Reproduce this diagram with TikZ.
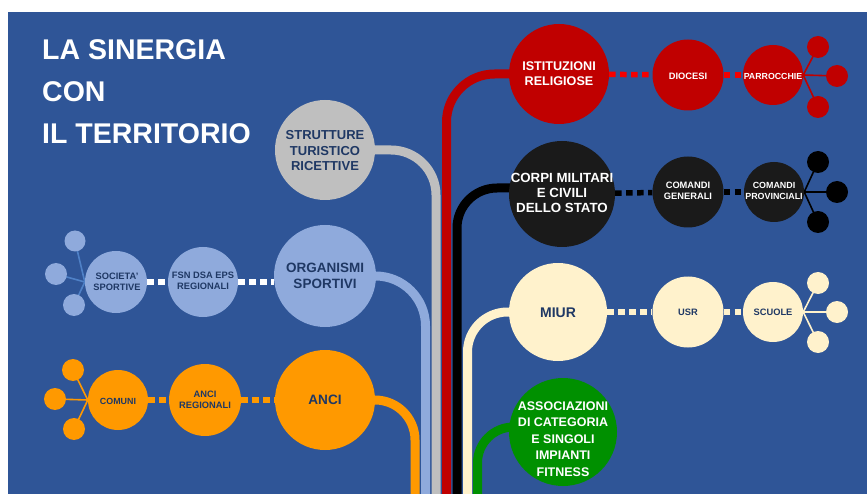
\documentclass[tikz,border=0pt]{standalone}
\usepackage{fontspec}
\setmainfont{Liberation Sans}
\definecolor{bg}{HTML}{2F5597}
\definecolor{navy}{HTML}{1F3864}
\definecolor{cgray}{HTML}{BFBFBF}
\definecolor{cblue}{HTML}{8FAADC}
\definecolor{cspoke}{HTML}{4F81C7}
\definecolor{corange}{HTML}{FF9900}
\definecolor{cred}{HTML}{C00000}
\definecolor{cblack}{HTML}{1A1A1A}
\definecolor{ccream}{HTML}{FFF2CC}
\definecolor{cgreen}{HTML}{009000}
\pgfdeclarelayer{back}
\pgfdeclarelayer{lines}
\pgfsetlayers{back,lines,main}
\begin{document}
\begin{tikzpicture}[x=1pt,y=-1pt,
  disc/.style={circle, fill=#1, draw=none, inner sep=0pt},
  conn/.style={draw=#1, line width=9pt},
  dots/.style={draw=#1, line width=5.5pt, dash pattern=on 6.5pt off 4.5pt},
  spoke/.style={draw=#1, line width=1.6pt},
  bigtxt/.style={font=\fontsize{13}{15.5}\selectfont\bfseries, align=center, text=#1, inner sep=0pt},
  smalltxt/.style={font=\fontsize{9.3}{11.3}\selectfont\bfseries, align=center, text=#1, inner sep=0pt},
  title/.style={font=\fontsize{28.5}{34}\selectfont\bfseries, text=white, anchor=base west, inner sep=0pt},
]
\useasboundingbox (0,0) rectangle (867,494);
\begin{pgfonlayer}{back}
\fill[white] (0,0) rectangle (867,494);
\fill[bg] (8,12) rectangle (867,494);
\end{pgfonlayer}

% title
\node[title] (t1) at (42,60) {LA SINERGIA};
\node[title] (t2) at (42,102) {CON};
\node[title] (t3) at (42,144) {IL TERRITORIO};

% ends of the trunk lines at the bottom edge
\coordinate (borange) at (415,494);
\coordinate (bblue)   at (425.5,494);
\coordinate (bgray)   at (436,494);
\coordinate (bred)    at (446.5,494);
\coordinate (bblack)  at (457,494);
\coordinate (bcream)  at (467.5,494);
\coordinate (bgreen)  at (477.5,494);

% main circles
\path
  (325,150) node[disc=cgray,  minimum size=100pt] (strutt) {}
  (325,276) node[disc=cblue,  minimum size=102pt] (org) {}
  (116,282) node[disc=cblue,  minimum size=62pt]  (soc) {}
  (203,282) node[disc=cblue,  minimum size=70pt]  (fsn) {}
  (325,400) node[disc=corange,minimum size=100pt] (anci) {}
  (205,400) node[disc=corange,minimum size=72pt]  (anreg) {}
  (118,400) node[disc=corange,minimum size=60pt]  (comuni) {}
  (559,74)  node[disc=cred,   minimum size=100pt] (istit) {}
  (688,75)  node[disc=cred,   minimum size=71pt]  (dioc) {}
  (773,75)  node[disc=cred,   minimum size=60pt]  (parr) {}
  (562,194) node[disc=cblack, minimum size=106pt] (corpi) {}
  (688,192) node[disc=cblack, minimum size=71pt]  (comgen) {}
  (774,192) node[disc=cblack, minimum size=60pt]  (comprov) {}
  (558,312) node[disc=ccream, minimum size=98pt]  (miur) {}
  (688,312) node[disc=ccream, minimum size=71pt]  (usr) {}
  (773,312) node[disc=ccream, minimum size=60pt]  (scuole) {}
  (563,432) node[disc=cgreen, minimum size=108pt] (assoc) {};

% leaf circles
\path
  (75,241)  node[disc=cblue, minimum size=21pt] (sa) {}
  (56,274)  node[disc=cblue, minimum size=22pt] (sb) {}
  (74,305)  node[disc=cblue, minimum size=22pt] (sc) {}
  (73,370)  node[disc=corange, minimum size=22pt] (oa) {}
  (55,399)  node[disc=corange, minimum size=22pt] (ob) {}
  (74,429)  node[disc=corange, minimum size=22pt] (oc) {}
  (818,47)  node[disc=cred, minimum size=22pt] (ra) {}
  (837,76)  node[disc=cred, minimum size=22pt] (rb) {}
  (818,107) node[disc=cred, minimum size=22pt] (rc) {}
  (818,162) node[disc=black, minimum size=22pt] (ka) {}
  (837,192) node[disc=black, minimum size=22pt] (kb) {}
  (818,222) node[disc=black, minimum size=22pt] (kc) {}
  (818,283) node[disc=ccream, minimum size=22pt] (ca) {}
  (837,312) node[disc=ccream, minimum size=22pt] (cb) {}
  (818,342) node[disc=ccream, minimum size=22pt] (cc) {};

\begin{pgfonlayer}{lines}
% trunk connectors
\draw[conn=cgray,   rounded corners=45pt] (strutt.center) -| (bgray);
\draw[conn=cblue,   rounded corners=50pt] (org.center) -| (bblue);
\draw[conn=corange, rounded corners=40pt] (anci.center) -| (borange);
\draw[conn=cred,    rounded corners=48pt] (istit.center) -| (bred);
\draw[conn=black,   rounded corners=40pt] ([yshift=6pt]corpi.center) -| (bblack);
\draw[conn=ccream,  rounded corners=40pt] (miur.center) -| (bcream);
\draw[conn=cgreen,  rounded corners=36pt] ([yshift=5pt]assoc.center) -| (bgreen);

% dotted links
\draw[dots=white]   (soc) -- (fsn);
\draw[dots=white]   (fsn.east) -- (fsn.east -| org.west);
\draw[dots=corange] (comuni) -- (anreg);
\draw[dots=corange] (anreg) -- (anci);
\draw[dots=red!85!cred] (istit) -- (dioc);
\draw[dots=red!85!cred] (dioc) -- (parr);
\draw[dots=black]   (corpi) -- (comgen);
\draw[dots=black]   (comgen) -- (comprov);
\draw[dots=ccream]  (miur) -- (usr);
\draw[dots=ccream]  (usr) -- (scuole);

% spokes to the leaf circles
\foreach \l in {sa,sb,sc} \draw[spoke=cspoke] (soc.west) -- (\l.center);
\foreach \l in {oa,ob,oc} \draw[spoke=corange] (comuni.west) -- (\l.center);
\foreach \l in {ra,rb,rc} \draw[spoke=cred] (parr.east) -- (\l.center);
\foreach \l in {ka,kb,kc} \draw[spoke=black] (comprov.east) -- (\l.center);
\foreach \l in {ca,cb,cc} \draw[spoke=ccream] (scuole.east) -- (\l.center);
\end{pgfonlayer}

% labels
\node[bigtxt=navy] (strutt-t) at (325,151) {STRUTTURE\\TURISTICO\\RICETTIVE};
\node[bigtxt=navy, font=\fontsize{13.5}{15.5}\selectfont\bfseries] (org-t) at (325,276) {ORGANISMI\\SPORTIVI};
\node[smalltxt=navy] (soc-t) at (117,282) {SOCIETA'\\SPORTIVE};
\node[smalltxt=navy] (fsn-t) at (203,281) {FSN DSA EPS\\REGIONALI};
\node[bigtxt=navy, font=\fontsize{13.6}{15.5}\selectfont\bfseries] (anci-t) at (325,400) {ANCI};
\node[smalltxt=navy] (anreg-t) at (205,400) {ANCI\\REGIONALI};
\node[smalltxt=navy, font=\fontsize{8.9}{11}\selectfont\bfseries] (comuni-t) at (118,401) {COMUNI};
\node[bigtxt=white, font=\fontsize{12.6}{15}\selectfont\bfseries] (istit-t) at (559,74) {ISTITUZIONI\\RELIGIOSE};
\node[smalltxt=white] (dioc-t) at (688,76) {DIOCESI};
\node[smalltxt=white, font=\fontsize{8.8}{11}\selectfont\bfseries] (parr-t) at (773,76) {PARROCCHIE};
\node[bigtxt=white, font=\fontsize{13.3}{15}\selectfont\bfseries] (corpi-t) at (562,193) {CORPI MILITARI\\E CIVILI\\DELLO STATO};
\node[smalltxt=white] (comgen-t) at (688,191) {COMANDI\\GENERALI};
\node[smalltxt=white, font=\fontsize{8.9}{11}\selectfont\bfseries] (comprov-t) at (774,191) {COMANDI\\PROVINCIALI};
\node[bigtxt=navy, font=\fontsize{14}{16}\selectfont\bfseries] (miur-t) at (558,313) {MIUR};
\node[smalltxt=navy] (usr-t) at (688,312) {USR};
\node[smalltxt=navy] (scuole-t) at (773,312) {SCUOLE};
\node[bigtxt=white, font=\fontsize{12.5}{16.4}\selectfont\bfseries] (assoc-t) at (563,439) {ASSOCIAZIONI\\DI CATEGORIA\\E SINGOLI\\IMPIANTI\\FITNESS};
\end{tikzpicture}
\end{document}
